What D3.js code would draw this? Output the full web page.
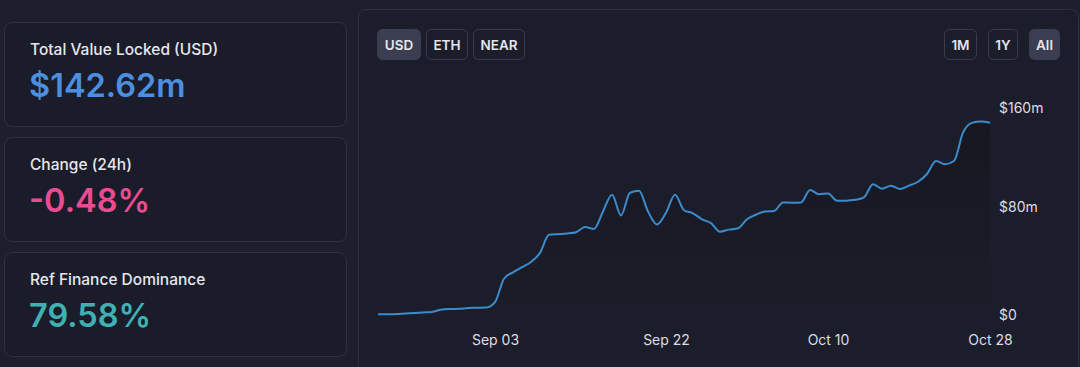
<!DOCTYPE html>
<html>
<head>
<meta charset="utf-8">
<script src="https://cdn.jsdelivr.net/npm/d3@7"></script>
<style>
  html, body { margin: 0; padding: 0; background: #1e1f2c; }
  svg { display: block; font-family: Inter, "Noto Sans", sans-serif; }
</style>
</head>
<body>
<svg id="chart" width="1080" height="367"></svg>
<script>
//stat cards on the left
const statLabels = ["Total Value Locked (USD)", "Change (24h)", "Ref Finance Dominance"];
const statValues = ["$142.62m", "-0.48%", "79.58%"];
const statColors = ["#4b8fe0", "#ea4b91", "#3fb1b3"];

//toggle buttons
const currencyBtns = ["USD", "ETH", "NEAR"];
const rangeBtns = ["1M", "1Y", "All"];

//tvl series, one value per day from Aug 21 to Oct 28 (in $m)
const startDay = "2021-08-21";
const endDay = "2021-10-28";
const tvl = [
  0.5, 0.6, 0.8, 1.2, 1.6, 2.0, 2.4, 4.0, 4.6, 4.8,
  5.4, 5.6, 5.8, 10, 28, 33, 37, 41, 48, 62,
  62.5, 63, 64, 68, 66.5, 80, 93, 77, 94.5, 96,
  80, 70, 79, 93, 81, 78.6, 74, 71, 64.4, 66,
  67, 74, 77.5, 80, 80.4, 87, 86.8, 87, 96.6, 93.3,
  94, 88.4, 88.4, 89, 91, 101, 97.6, 100, 97.4, 100,
  103, 109, 119, 116.5, 119, 141, 148.5, 149.5, 148.6
];

//axis ticks
const xTickDates = ["2021-09-03", "2021-09-22", "2021-10-10", "2021-10-28"];
const yTicks = [0, 80, 160];

const parse = d3.timeParse("%Y-%m-%d");
const days = d3.timeDay.range(parse(startDay), d3.timeDay.offset(parse(endDay), 1));
const series = days.map((d, i) => ({ date: d, value: tvl[i] }));

const svg = d3.select("#chart");

//draw the three cards with label and big number
function drawCards() {
  const cardY = [22, 137, 252];
  const g = svg.append("g");
  statLabels.forEach((label, i) => {
    g.append("rect")
      .attr("x", 4.5).attr("y", cardY[i] + 0.5)
      .attr("width", 342).attr("height", 104)
      .attr("rx", 8)
      .attr("fill", "#1b1c29")
      .attr("stroke", "#2f3140");
    g.append("text")
      .attr("x", 30).attr("y", cardY[i] + 33)
      .attr("fill", "#e6e7ee")
      .attr("font-size", 15.5)
      .attr("font-weight", 500)
      .text(label);
    g.append("text")
      .attr("x", 29).attr("y", cardY[i] + 75)
      .attr("fill", statColors[i])
      .attr("font-size", 32.5)
      .attr("font-weight", 600)
      .text(statValues[i]);
  });
}

//small rounded buttons, one of them is the active one
function drawButtons(labels, xs, widths, activeIdx) {
  const g = svg.append("g");
  labels.forEach((lab, i) => {
    const active = i === activeIdx;
    g.append("rect")
      .attr("x", xs[i] + 0.5).attr("y", 29.5)
      .attr("width", widths[i]).attr("height", 30)
      .attr("rx", 5)
      .attr("fill", active ? "#3b3d50" : "none")
      .attr("stroke", active ? "#3b3d50" : "#3a3c4c");
    g.append("text")
      .attr("x", xs[i] + widths[i] / 2 + 0.5).attr("y", 49.5)
      .attr("text-anchor", "middle")
      .attr("fill", "#e4e5ec")
      .attr("font-size", 13.5)
      .attr("font-weight", 600)
      .text(lab);
  });
}

function drawChart() {
  //panel
  svg.append("rect")
    .attr("x", 358.5).attr("y", 9.5)
    .attr("width", 720).attr("height", 400)
    .attr("rx", 8)
    .attr("fill", "#1c1d2a")
    .attr("stroke", "#2f3140");

  drawButtons(currencyBtns, [377, 426, 473], [43, 41, 51], 0);
  drawButtons(rangeBtns, [944, 988, 1029], [32, 29, 30], 2);

  const x = d3.scaleTime()
    .domain([parse(startDay), parse(endDay)])
    .range([378, 990]);
  const y = d3.scaleLinear()
    .domain([0, 160])
    .range([315, 108]);

  //gradient for the shade under the line
  const grad = svg.append("defs").append("linearGradient")
    .attr("id", "shade").attr("x1", 0).attr("x2", 0).attr("y1", 0).attr("y2", 1);
  grad.append("stop").attr("offset", "0%").attr("stop-color", "#121219").attr("stop-opacity", 0.55);
  grad.append("stop").attr("offset", "100%").attr("stop-color", "#121219").attr("stop-opacity", 0);

  const area = d3.area()
    .x(d => x(d.date))
    .y0(y(0))
    .y1(d => y(d.value))
    .curve(d3.curveMonotoneX);

  const line = d3.line()
    .x(d => x(d.date))
    .y(d => y(d.value))
    .curve(d3.curveMonotoneX);

  svg.append("path")
    .datum(series)
    .attr("d", area)
    .attr("fill", "url(#shade)");

  svg.append("path")
    .datum(series)
    .attr("d", line)
    .attr("fill", "none")
    .attr("stroke", "#3a8ccd")
    .attr("stroke-width", 2);

  //x axis labels
  const xAxis = d3.axisBottom(x)
    .tickValues(xTickDates.map(parse))
    .tickFormat(d3.timeFormat("%b %d"))
    .tickSize(0)
    .tickPadding(0);
  const gx = svg.append("g")
    .attr("transform", "translate(0,335)")
    .call(xAxis);
  gx.select(".domain").remove();
  gx.selectAll("text")
    .attr("fill", "#dcdde4")
    .attr("font-size", 14)
    .attr("font-family", "Inter, sans-serif");

  //y axis labels on the right
  const yAxis = d3.axisRight(y)
    .tickValues(yTicks)
    .tickFormat(d => d === 0 ? "$0" : `$${d}m`)
    .tickSize(0)
    .tickPadding(0);
  const gy = svg.append("g")
    .attr("transform", "translate(999,0)")
    .call(yAxis);
  gy.select(".domain").remove();
  gy.selectAll("text")
    .attr("fill", "#dcdde4")
    .attr("font-size", 14)
    .attr("font-family", "Inter, sans-serif");
  //the middle label sits a little higher in the original
  gy.selectAll(".tick").filter(d => d === 80).select("text").attr("dy", "-0.0em");
}

drawCards();
drawChart();
</script>
</body>
</html>
